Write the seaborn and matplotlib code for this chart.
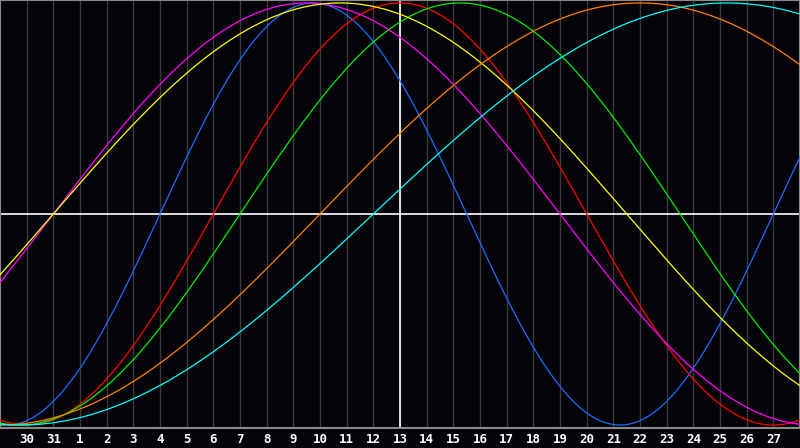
import matplotlib
matplotlib.use("Agg")
import matplotlib.pyplot as plt
import numpy as np
import pandas as pd
import seaborn as sns

# calendar days shown along the bottom (index 0 = 29th of previous month)
day_labels = ["29", "30", "31"] + [str(d) for d in range(1, 29)]
today_index = 15  # day 13

# biorhythm cycles: period (days) and day index of the peak
cycle_names = ["physical", "emotional", "intellectual", "intuitive",
               "aesthetic", "awareness", "spiritual"]
cycle_periods = [23, 28, 33, 38, 43, 48, 53]
cycle_peaks = [11.75, 15.0, 17.25, 11.5, 12.75, 24.0, 27.25]
cycle_colors = ["#1c6cff", "#ff0000", "#00ee00", "#ff00ff",
                "#ffff00", "#ff8000", "#00ffff"]

rows = []
d = np.linspace(0, len(day_labels) - 1, 901)
for name, period, peak in zip(cycle_names, cycle_periods, cycle_peaks):
    vals = np.cos(2 * np.pi * (d - peak) / period)
    rows.append(pd.DataFrame({"day": d, "value": vals, "cycle": name}))
df = pd.concat(rows, ignore_index=True)

sns.set_style("dark")
plt.rcParams["font.family"] = ["DejaVu Sans Mono", "DejaVu Sans"]

fig = plt.figure(figsize=(8, 4.48), dpi=100)
fig.patch.set_facecolor("#040308")
ax = fig.add_axes([0, 20 / 448, 1, 428 / 448])
ax.set_facecolor("#040308")

for i in range(1, len(day_labels) - 1):
    ax.axvline(i, color="#3a3a3a", lw=1.0, zorder=1)
ax.axvline(today_index, color="white", lw=1.2, zorder=2)
ax.axhline(0, color="white", lw=1.2, zorder=2)

sns.lineplot(data=df, x="day", y="value", hue="cycle", hue_order=cycle_names,
             palette=cycle_colors, linewidth=0.9, legend=False, ax=ax,
             zorder=3)

ax.set_xlim(0, len(day_labels) - 1)
ax.set_ylim(-1.014, 1.014)
ax.set_xticks(range(1, len(day_labels) - 1))
ax.set_xticklabels(day_labels[1:-1])
ax.set_yticks([])
ax.set_xlabel("")
ax.set_ylabel("")
ax.tick_params(axis="x", length=0, pad=3.5, labelsize=9, labelcolor="white")
for lab in ax.get_xticklabels():
    lab.set_fontweight("bold")
for side in ax.spines.values():
    side.set_visible(True)
    side.set_color("#8a8a8a")
    side.set_linewidth(1.5)

fig.savefig("out.png", dpi=100, facecolor=fig.get_facecolor())
